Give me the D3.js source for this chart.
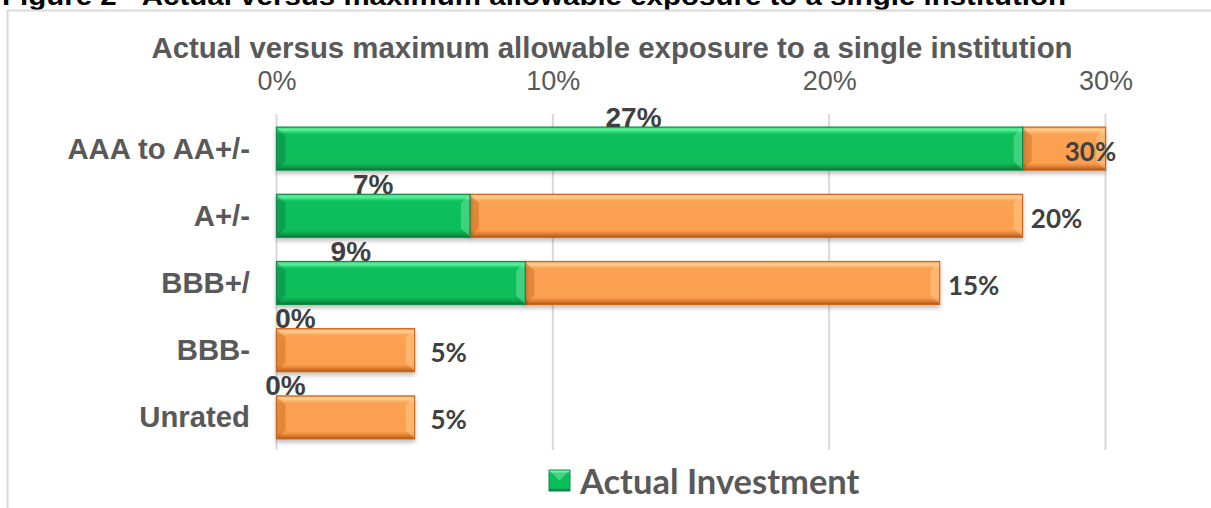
<!DOCTYPE html>
<html>
<head>
<meta charset="utf-8">
<script src="https://cdn.jsdelivr.net/npm/d3@7"></script>
<style>
  body { margin: 0; background: #fff; }
  svg { display: block; }
</style>
</head>
<body>
<div id="chart"></div>
<script>
// chart data
const categories = ["AAA to AA+/-", "A+/-", "BBB+/", "BBB-", "Unrated"];
const actualInvestment = [27, 7, 9, 0, 0];   // %
const maxAllowable = [30, 20, 15, 5, 5];      // % (stacked on top of actual)
const tickValues = [0, 10, 20, 30];

// manual nudges of the "actual" labels, as placed in the source chart (px)
const actualLabelNudge = [-16, 0, -50, 19, 9];

const W = 1211, H = 508;

const svg = d3.select("#chart")
    .append("svg")
    .attr("width", W)
    .attr("height", H);

const defs = svg.append("defs");

// gradients for the bevelled bars
function barGradient(id, stops) {
    const g = defs.append("linearGradient")
        .attr("id", id)
        .attr("x1", 0).attr("y1", 0).attr("x2", 0).attr("y2", 1);
    stops.forEach(s => g.append("stop").attr("offset", s[0]).attr("stop-color", s[1]));
}
barGradient("gGreen", [[0, "#2fd57a"], [0.06, "#5cf29c"], [0.16, "#0bbf5c"], [0.84, "#0abd5a"], [0.93, "#089a48"], [1, "#0a6e35"]]);
barGradient("gOrange", [[0, "#f7a85a"], [0.06, "#ffd08f"], [0.16, "#fba152"], [0.84, "#fb9f4f"], [0.93, "#dc7a2c"], [1, "#a95314"]]);

const shadow = defs.append("filter").attr("id", "shadow")
    .attr("x", "-5%").attr("y", "-20%").attr("width", "110%").attr("height", "150%");
shadow.append("feDropShadow")
    .attr("dx", 0).attr("dy", 3)
    .attr("stdDeviation", 2)
    .attr("flood-color", "#000")
    .attr("flood-opacity", 0.25);

// caption above the chart box (cut off at the top in the source)
svg.append("text")
    .attr("x", 2)
    .attr("y", 5)
    .attr("font-family", "Liberation Sans, Arial, sans-serif")
    .attr("font-weight", "bold")
    .attr("font-size", 26)
    .attr("fill", "#000")
    .attr("textLength", 1064)
    .attr("lengthAdjust", "spacingAndGlyphs")
    .text("Figure 2 - Actual versus maximum allowable exposure to a single institution");

// chart border
svg.append("rect")
    .attr("x", 7.5)
    .attr("y", 10.5)
    .attr("width", W + 20)
    .attr("height", H + 20)
    .attr("fill", "none")
    .attr("stroke", "#d9d9d9")
    .attr("stroke-width", 2);

// scales
const x = d3.scaleLinear()
    .domain([0, 30])
    .range([276.5, 1105.5]);

const y = d3.scaleBand()
    .domain(categories)
    .range([115, 451])
    .paddingInner(0.36)
    .paddingOuter(0.18);

// title
svg.append("text")
    .attr("x", 612)
    .attr("y", 58)
    .attr("text-anchor", "middle")
    .attr("font-family", "Liberation Sans, Arial, sans-serif")
    .attr("font-weight", "bold")
    .attr("font-size", 29.4)
    .attr("fill", "#595959")
    .text("Actual versus maximum allowable exposure to a single institution");

// gridlines
svg.selectAll(".grid")
    .data(tickValues)
    .enter().append("line")
    .attr("class", "grid")
    .attr("x1", d => x(d))
    .attr("x2", d => x(d))
    .attr("y1", 114)
    .attr("y2", 450)
    .attr("stroke", "#d9d9d9")
    .attr("stroke-width", 2);

// top axis
const xAxis = d3.axisTop(x)
    .tickValues(tickValues)
    .tickFormat(d => d + "%")
    .tickSize(0)
    .tickPadding(0);

const axisG = svg.append("g")
    .attr("transform", "translate(0,90)")
    .call(xAxis);
axisG.select(".domain").remove();
axisG.selectAll("text")
    .attr("font-family", "Liberation Sans, Arial, sans-serif")
    .attr("font-size", 27)
    .attr("fill", "#595959");

// category labels
svg.selectAll(".cat")
    .data(categories)
    .enter().append("text")
    .attr("class", "cat")
    .attr("x", 250)
    .attr("y", d => y(d) + y.bandwidth() / 2 + 10)
    .attr("text-anchor", "end")
    .attr("font-family", "Liberation Sans, Arial, sans-serif")
    .attr("font-weight", "bold")
    .attr("font-size", 29.3)
    .attr("fill", "#595959")
    .text(d => d);

const rows = categories.map((c, i) => ({
    cat: c,
    actual: actualInvestment[i],
    max: maxAllowable[i],
    nudge: actualLabelNudge[i]
}));

const xMax = x.domain()[1];

// bevel overlay for a bar segment
function drawBar(g, x0, x1, yTop, h, fill, stroke, dark, light) {
    const b = Math.min(9, (x1 - x0) / 2);
    g.append("rect")
        .attr("x", x0).attr("y", yTop)
        .attr("width", x1 - x0).attr("height", h)
        .attr("fill", fill)
        .attr("stroke", stroke)
        .attr("stroke-width", 1.2)
        .attr("filter", "url(#shadow)");
    // left bevel
    g.append("path")
        .attr("d", `M${x0 + 0.6},${yTop + 1} L${x0 + b},${yTop + b} L${x0 + b},${yTop + h - b} L${x0 + 0.6},${yTop + h - 1} Z`)
        .attr("fill", dark)
        .attr("opacity", 0.35);
    // right bevel
    g.append("path")
        .attr("d", `M${x1 - 0.6},${yTop + 1} L${x1 - b},${yTop + b} L${x1 - b},${yTop + h - b} L${x1 - 0.6},${yTop + h - 1} Z`)
        .attr("fill", light)
        .attr("opacity", 0.35);
}

const bars = svg.append("g");
rows.forEach(r => {
    const yTop = y(r.cat), h = y.bandwidth();
    const end = Math.min(r.actual + r.max, xMax);
    // orange (max allowable) stacked after the actual value
    drawBar(bars, x(r.actual), x(end), yTop, h, "url(#gOrange)", "#c8661c", "#b85a12", "#ffe0b0");
    if (r.actual > 0) {
        drawBar(bars, x(0), x(r.actual), yTop, h, "url(#gGreen)", "#12894a", "#05703a", "#9df5c2");
    }
});

// labels for max allowable
svg.selectAll(".maxLabel")
    .data(rows)
    .enter().append("text")
    .attr("class", "maxLabel")
    .attr("x", d => (d.actual + d.max > xMax) ? x(xMax) - 15 : x(d.actual + d.max) + 34)
    .attr("y", d => y(d.cat) + y.bandwidth() / 2 + 12)
    .attr("text-anchor", "middle")
    .attr("font-family", "Lato, 'Open Sans', sans-serif")
    .attr("font-weight", "bold")
    .attr("font-size", 26)
    .attr("fill", "#404040")
    .text(d => d.max + "%");

// labels for actual investment
svg.selectAll(".actLabel")
    .data(rows)
    .enter().append("text")
    .attr("class", "actLabel")
    .attr("x", d => x(d.actual / 2) + d.nudge)
    .attr("y", d => y(d.cat) - 0.5)
    .attr("text-anchor", "middle")
    .attr("font-family", "Liberation Sans, Arial, sans-serif")
    .attr("font-weight", "bold")
    .attr("font-size", 28)
    .attr("fill", "#404040")
    .text(d => d.actual + "%");

// legend
const legend = svg.append("g").attr("transform", "translate(549,470)");
legend.append("rect")
    .attr("width", 21).attr("height", 21)
    .attr("fill", "url(#gGreen)")
    .attr("stroke", "#12894a");
legend.append("path")
    .attr("d", "M0.5,0.5 L10.5,10.5 L20.5,0.5 Z")
    .attr("fill", "#9df5c2").attr("opacity", 0.4);
legend.append("text")
    .attr("x", 31)
    .attr("y", 24)
    .attr("font-family", "Lato, 'Open Sans', sans-serif")
    .attr("font-weight", "bold")
    .attr("font-size", 34.5)
    .attr("fill", "#595959")
    .text("Actual Investment");
</script>
</body>
</html>
